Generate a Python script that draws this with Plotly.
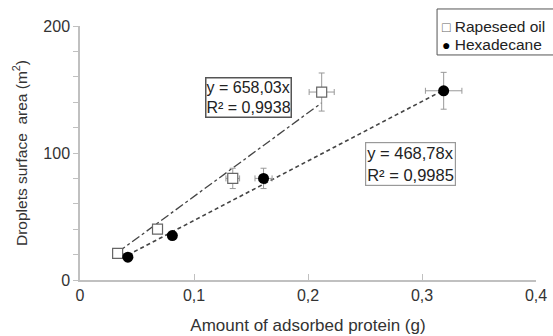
import plotly.graph_objects as go

# Data
rape_x = [0.033, 0.068, 0.134, 0.212]
rape_y = [21, 40, 80, 148]
rape_xerr = [0.002, 0.003, 0.006, 0.011]
rape_yerr = [2, 3, 8, 15]

hexa_x = [0.042, 0.081, 0.161, 0.319]
hexa_y = [18, 35, 80, 149]
hexa_xerr = [0.002, 0.002, 0.0075, 0.016]
hexa_yerr = [2, 2, 8, 14.5]

rape_slope = 658.03
hexa_slope = 468.78
rape_label = "y = 658,03x<br>R² = 0,9938"
hexa_label = "y = 468,78x<br>R² = 0,9985"
series_names = ["Rapeseed oil", "Hexadecane"]

FONT = "Liberation Sans, Arial, sans-serif"
AXC = "#c0c0c0"
TXT = "#333333"

fig = go.Figure()

# Trend lines (computed from slopes over data range)
rx = [min(rape_x), max(rape_x)]
hx = [min(hexa_x), max(hexa_x)]
fig.add_trace(go.Scatter(x=rx, y=[rape_slope * v for v in rx], mode="lines",
                         line=dict(color="#444444", width=1.3, dash="dashdot"),
                         showlegend=False, hoverinfo="skip"))
fig.add_trace(go.Scatter(x=hx, y=[hexa_slope * v for v in hx], mode="lines",
                         line=dict(color="#444444", width=1.6, dash="4px,3px"),
                         showlegend=False, hoverinfo="skip"))

fig.add_trace(go.Scatter(
    x=rape_x, y=rape_y, mode="markers", name=series_names[0], showlegend=False,
    marker=dict(symbol="square", size=10, color="white",
                line=dict(color="#666666", width=1.2)),
    error_x=dict(type="data", array=rape_xerr, color="#999999", thickness=1, width=3),
    error_y=dict(type="data", array=rape_yerr, color="#999999", thickness=1, width=3),
))
fig.add_trace(go.Scatter(
    x=hexa_x, y=hexa_y, mode="markers", name=series_names[1], showlegend=False,
    marker=dict(symbol="circle", size=11, color="black",
                line=dict(color="black", width=0)),
    error_x=dict(type="data", array=hexa_xerr, color="#999999", thickness=1, width=3),
    error_y=dict(type="data", array=hexa_yerr, color="#999999", thickness=1, width=3),
))

fig.add_annotation(x=0.1475, y=143.5, text=rape_label, showarrow=False, align="left",
                   font=dict(family=FONT, size=16, color="#222222"),
                   bordercolor="#555555", borderwidth=1.5, borderpad=0, bgcolor="white")
fig.add_annotation(x=0.2895, y=91.5, text=hexa_label, showarrow=False, align="left",
                   font=dict(family=FONT, size=16.5, color="#222222"),
                   bordercolor="#999999", borderwidth=1.2, borderpad=1, bgcolor="white")

# Legend box (drawn manually to match compact symbol/text spacing)
fig.add_shape(type="rect", xref="paper", yref="paper",
              x0=0.783, x1=1.05, y0=0.886, y1=1.067,
              line=dict(color="#555555", width=1), fillcolor="white", layer="above")
fig.add_annotation(xref="paper", yref="paper", x=0.789, y=1.0, xanchor="left",
                   yanchor="middle", showarrow=False,
                   text="<span style='font-size:14px;color:#666'>□</span> " + series_names[0],
                   font=dict(family=FONT, size=15.5, color="#222222"))
fig.add_annotation(xref="paper", yref="paper", x=0.789, y=0.927, xanchor="left",
                   yanchor="middle", showarrow=False,
                   text="<span style='font-size:14px;color:#000'>●</span> " + series_names[1],
                   font=dict(family=FONT, size=15.5, color="#222222"))

fig.update_layout(
    width=553, height=336,
    margin=dict(l=80, r=17, t=26, b=56),
    paper_bgcolor="white", plot_bgcolor="white",
    separators=", ",
    font=dict(family=FONT, size=16, color=TXT),
    showlegend=False,
    xaxis=dict(range=[0, 0.4], tick0=0, dtick=0.1, showgrid=False, zeroline=False,
               automargin=False,
               showline=True, linecolor=AXC, linewidth=1.5,
               ticks="inside", ticklen=6, tickcolor=AXC, tickwidth=1.2,
               tickfont=dict(family=FONT, size=16, color=TXT),
               title=dict(text="Amount of adsorbed protein (g)", standoff=16,
                          font=dict(family=FONT, size=17, color=TXT))),
    yaxis=dict(range=[0, 200], tick0=0, dtick=100, showgrid=False, zeroline=False,
               automargin=False,
               showline=True, linecolor=AXC, linewidth=1.5,
               ticks="outside", ticklen=5, tickcolor=AXC, tickwidth=1.2,
               minor=dict(dtick=20, ticks="outside", ticklen=5, tickcolor=AXC, tickwidth=1.2,
                          showgrid=False),
               tickfont=dict(family=FONT, size=16, color=TXT),
               title=dict(text="Droplets surface\u00a0 area (m<sup>2</sup>)", standoff=12,
                          font=dict(family=FONT, size=15.5, color=TXT))),
)

fig.write_html("out.html")
